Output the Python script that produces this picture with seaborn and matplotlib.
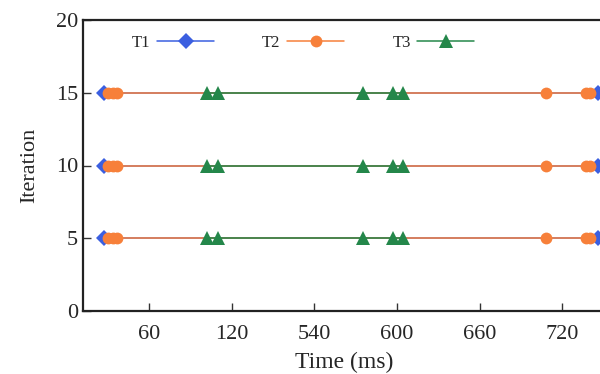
import numpy as np
import pandas as pd
import matplotlib
matplotlib.use("Agg")
import matplotlib.pyplot as plt
import seaborn as sns

# values
iterations = [5, 10, 15]
t1_times = [27, 746]
t2_times = [30, 34, 37, 708, 737, 740]
t3_times = [102, 110, 575, 597, 604]
tick_vals = [60, 120, 540, 600, 660, 720]

colors = {"T1": "#3b5fe0", "T2": "#f7803a", "T3": "#24874a"}
markers = {"T1": "D", "T2": "o", "T3": "^"}
sizes = {"T1": 8, "T2": 8.5, "T3": 10.5}

rows = []
for it in iterations:
    for task, times in [("T1", t1_times), ("T2", t2_times), ("T3", t3_times)]:
        for t in times:
            rows.append({"time": t, "iteration": it, "task": task, "unit": f"{task}-{it}"})
df = pd.DataFrame(rows)


# broken time axis: 120..540 squeezed into one tick step
def fwd(t):
    t = np.asarray(t, dtype=float)
    return np.where(t <= 120, t / 60, np.where(t >= 540, (t - 360) / 60, 2 + (t - 120) / 420))


def inv(p):
    p = np.asarray(p, dtype=float)
    return np.where(p <= 2, p * 60, np.where(p >= 3, p * 60 + 360, 120 + (p - 2) * 420))


sns.set_style("ticks")
plt.rcParams["font.family"] = ["Liberation Serif", "DejaVu Serif"]

fig = plt.figure(figsize=(6, 3.74), dpi=100)
ax = fig.add_axes([83 / 600, 63 / 374, 522 / 600, 291 / 374])
ax.set_xscale("function", functions=(fwd, inv))

for task in ["T1", "T2", "T3"]:
    sns.lineplot(data=df[df["task"] == task], x="time", y="iteration",
                 units="unit", estimator=None, sort=False,
                 color=colors[task], marker=markers[task],
                 linewidth=1.1, markersize=sizes[task], markeredgewidth=0,
                 legend=False, ax=ax)

ax.set_xlim(12, 751)
ax.set_ylim(0, 20)
ax.set_xticks(tick_vals)
ax.set_xticklabels([str(v) for v in tick_vals])
ax.set_yticks([0, 5, 10, 15, 20])
ax.minorticks_off()
ax.tick_params(direction="in", length=6, width=1, labelsize=16, color="#333333")
ax.tick_params(axis="x", pad=10)
ax.set_xlabel("Time (ms)", fontsize=17, labelpad=6)
ax.set_ylabel("Iteration", fontsize=16, labelpad=12)
for s in ax.spines.values():
    s.set_linewidth(1.6)
    s.set_color("#222222")

handles = [plt.Line2D([], [], color=colors[k], marker=markers[k], markersize=sizes[k],
                      markeredgewidth=0, linewidth=1.1) for k in ["T1", "T2", "T3"]]
ax.legend(handles, ["T1", "T2", "T3"], ncol=3, frameon=False, markerfirst=False,
          loc="center left", bbox_to_anchor=(0.094, 0.921), borderpad=0,
          borderaxespad=0, handlelength=3.4, columnspacing=2.9, handletextpad=0.4,
          fontsize=12)

fig.savefig("out.png", dpi=100)
